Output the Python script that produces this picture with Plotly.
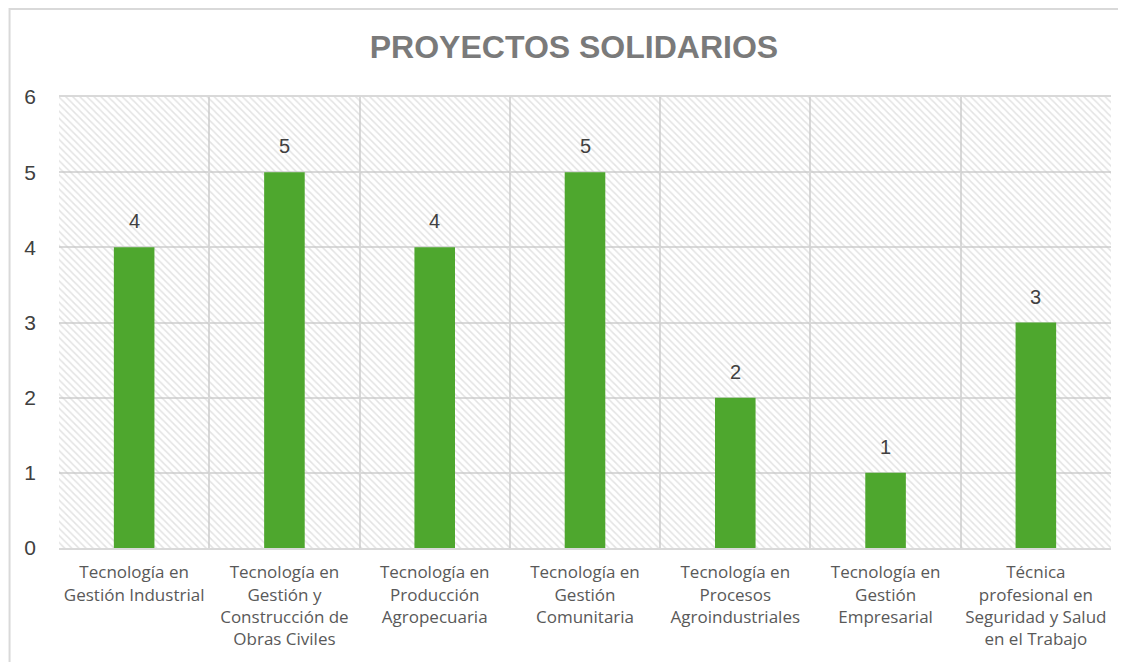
import plotly.graph_objects as go

# Data
categories = [
    "Tecnología en<br>Gestión Industrial",
    "Tecnología en<br>Gestión y<br>Construcción de<br>Obras Civiles",
    "Tecnología en<br>Producción<br>Agropecuaria",
    "Tecnología en<br>Gestión<br>Comunitaria",
    "Tecnología en<br>Procesos<br>Agroindustriales",
    "Tecnología en<br>Gestión<br>Empresarial",
    "Técnica<br>profesional en<br>Seguridad y Salud<br>en el Trabajo",
]
proyectos = [4, 5, 4, 5, 2, 1, 3]

Y_MAX = 6
GRID = "#d9d9d9"

# Hatched plot background (one full-height cell per category)
bg_trace = go.Bar(
    x=categories,
    y=[Y_MAX] * len(categories),
    width=1,
    marker=dict(
        color="rgba(0,0,0,0)",
        line=dict(width=0),
        pattern=dict(shape="\\", fgcolor="#c8c8c8", bgcolor="rgba(0,0,0,0)",
                     size=5, solidity=0.3),
    ),
    hoverinfo="skip",
    showlegend=False,
)

bar_trace = go.Bar(
    x=categories,
    y=proyectos,
    width=0.27,
    marker=dict(color="#4ea72e", line=dict(width=0)),
    showlegend=False,
)

fig = go.Figure(data=[bg_trace, bar_trace])

# value labels above bars
for cat, val in zip(categories, proyectos):
    fig.add_annotation(
        x=cat, y=val, text=str(val), showarrow=False,
        yanchor="middle", yshift=26,
        font=dict(family="Liberation Sans, Arial", size=20, color="#404040"),
    )

# page body has an 8px margin, so the figure is a bit smaller than the window
fig.update_layout(
    width=1118,
    height=654,
    barmode="overlay",
    paper_bgcolor="white",
    plot_bgcolor="white",
    margin=dict(l=51, r=15, t=89, b=114),
    title=dict(
        text="<b>PROYECTOS SOLIDARIOS</b>",
        xref="paper", x=0.4895, xanchor="center",
        y=1 - 39 / 654, yanchor="middle",
        font=dict(family="Liberation Sans, Arial", size=32, color="#7a7a7a"),
    ),
    xaxis=dict(
        type="category",
        tickson="boundaries",
        showgrid=True,
        gridcolor=GRID,
        gridwidth=2,
        ticks="",
        showline=True,
        linecolor=GRID,
        linewidth=2,
        mirror=True,
        ticklabelstandoff=8,
        tickfont=dict(family="Open Sans", size=17, color="#595959"),
    ),
    yaxis=dict(
        range=[0, Y_MAX],
        dtick=1,
        showgrid=True,
        gridcolor=GRID,
        gridwidth=2,
        zeroline=False,
        showline=False,
        ticks="",
        ticklabelstandoff=22,
        tickfont=dict(family="Liberation Sans, Arial", size=21, color="#404040"),
    ),
    shapes=[
        dict(type="rect", xref="paper", yref="paper",
             x0=-0.047, x1=1.03, y0=-0.4, y1=1.195,
             line=dict(color="#d9d9d9", width=2), fillcolor="rgba(0,0,0,0)",
             layer="below"),
    ],
)

fig.write_html("out.html")
